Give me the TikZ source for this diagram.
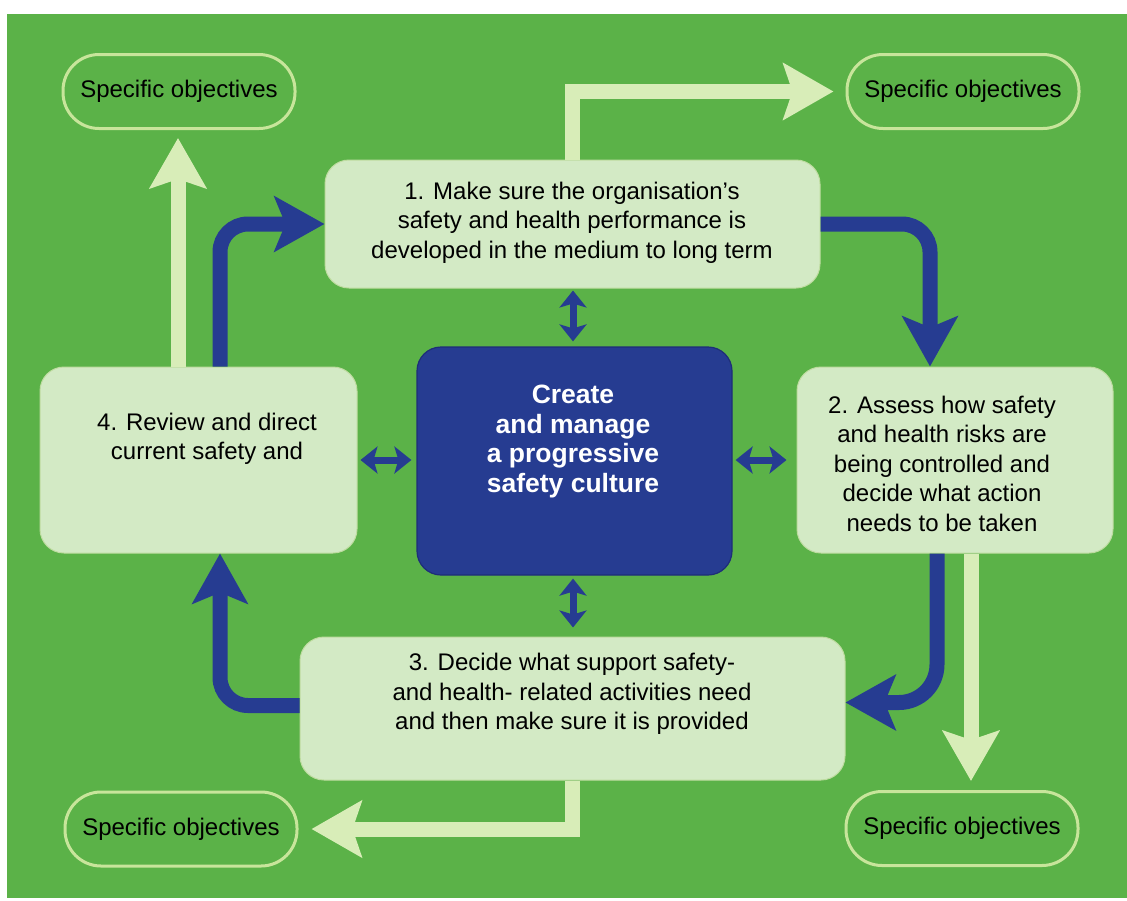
\documentclass[tikz,border=0pt]{standalone}
\usepackage{fontspec}
\setmainfont{Liberation Sans}
\usetikzlibrary{arrows.meta,calc}
\definecolor{bggreen}{RGB}{91,178,72}
\definecolor{boxfill}{RGB}{211,234,197}
\definecolor{boxline}{RGB}{190,220,160}
\definecolor{navy}{RGB}{38,60,145}
\definecolor{navyline}{RGB}{30,46,120}
\definecolor{pale}{RGB}{216,237,184}
\definecolor{pillline}{RGB}{200,229,155}
\begin{document}
\begin{tikzpicture}[x=1pt,y=-1pt,
  stepbox/.style={rectangle,rounded corners=24pt,fill=boxfill,draw=boxline,line width=1pt,inner sep=0pt},
  pill/.style={rectangle,rounded corners=36pt,draw=pillline,line width=3pt,fill=bggreen,inner sep=0pt,minimum width=232pt,minimum height=74pt,font=\fontsize{24}{28}\selectfont},
  txt/.style={align=center,font=\fontsize{24}{29.5}\selectfont,inner sep=0pt},
  larr/.style={draw=pale,line width=15pt,-{Stealth[length=50pt,width=56pt,inset=9pt]}},
  darr/.style={draw=navy,line width=15pt,rounded corners=28pt,-{Stealth[length=50pt,width=55pt,inset=11pt]}},
  sarr/.style={draw=navy,line width=7pt,{Stealth[length=17pt,width=27pt,inset=4pt]}-{Stealth[length=17pt,width=27pt,inset=4pt]}}
]
\useasboundingbox (0,0) rectangle (1127,900);
\fill[white] (0,0) rectangle (1127,900);
\fill[bggreen] (7,14) rectangle (1127,898);

% boxes
\node[stepbox,minimum width=495pt,minimum height=128pt] (box1) at (572.5,224) {};
\node[stepbox,minimum width=317pt,minimum height=186pt] (box4) at (198.5,460) {};
\node[stepbox,minimum width=316pt,minimum height=186pt] (box2) at (955,460) {};
\node[stepbox,minimum width=545pt,minimum height=143pt] (box3) at (572.5,708.5) {};
\node[rectangle,rounded corners=24pt,fill=navy,draw=navyline,line width=1.2pt,minimum width=315pt,minimum height=228pt] (core) at (574.5,461) {};

% texts
\node[txt] (t1) at (572,222.5) {1. Make sure the organisation’s\\safety and health performance is\\developed in the medium to long term};
\node[txt] (t4) at (207,439) {4. Review and direct\\current safety and};
\node[txt] (t2) at (942,463.5) {2. Assess how safety\\and health risks are\\being controlled and\\decide what action\\needs to be taken};
\node[txt] (t3) at (572,694) {3. Decide what support safety-\\and health- related activities need\\and then make sure it is provided};
\node[txt,text=white,font=\fontsize{26.5}{29.5}\selectfont\bfseries] (tc) at (573,441.5) {Create\\and manage\\a progressive\\safety culture};

% objectives
\node[pill] (obj1) at (179,91.5) {Specific objectives};
\node[pill] (obj2) at (963,91.5) {Specific objectives};
\node[pill] (obj3) at (181,829) {Specific objectives};
\node[pill] (obj4) at (962,828.5) {Specific objectives};

% light arrows
\draw[larr] ($(box4.north)+(-20.5,0)$) -- ($(obj1.south)+(-1,8)$);
\draw[larr] (box1.north) |- ($(obj2.west)+(-12,0)$);
\draw[larr] ($(box2.south)+(16,0)$) -- ($(obj4.north)+(9,-9)$);
\draw[larr] (box3.south) |- ($(obj3.east)+(13,0)$);

% dark cycle arrows
\draw[darr] ($(box4.north)+(21.5,0)$) |- (box1.west);
\draw[darr] (box1.east) -| ($(box2.north)+(-25,0)$);
\draw[darr,rounded corners=38pt] ($(box2.south)+(-18,0)$) |- ($(box3.east)+(0,-6)$);
\draw[darr] ($(box3.west)+(0,-3)$) -| ($(box4.south)+(21.5,0)$);

% small double arrows
\draw[sarr] ($(box1.south)+(0.5,2)$) -- ($(core.north)+(-1.5,-5)$);
\draw[sarr] ($(core.south)+(-1.5,3)$) -- ($(box3.north)+(0.5,-9)$);
\draw[sarr] ($(box4.east)+(3,0)$) -- ($(core.west)+(-5,-1)$);
\draw[sarr] ($(core.east)+(3,-1)$) -- ($(box2.west)+(-10,0)$);
\end{tikzpicture}
\end{document}
